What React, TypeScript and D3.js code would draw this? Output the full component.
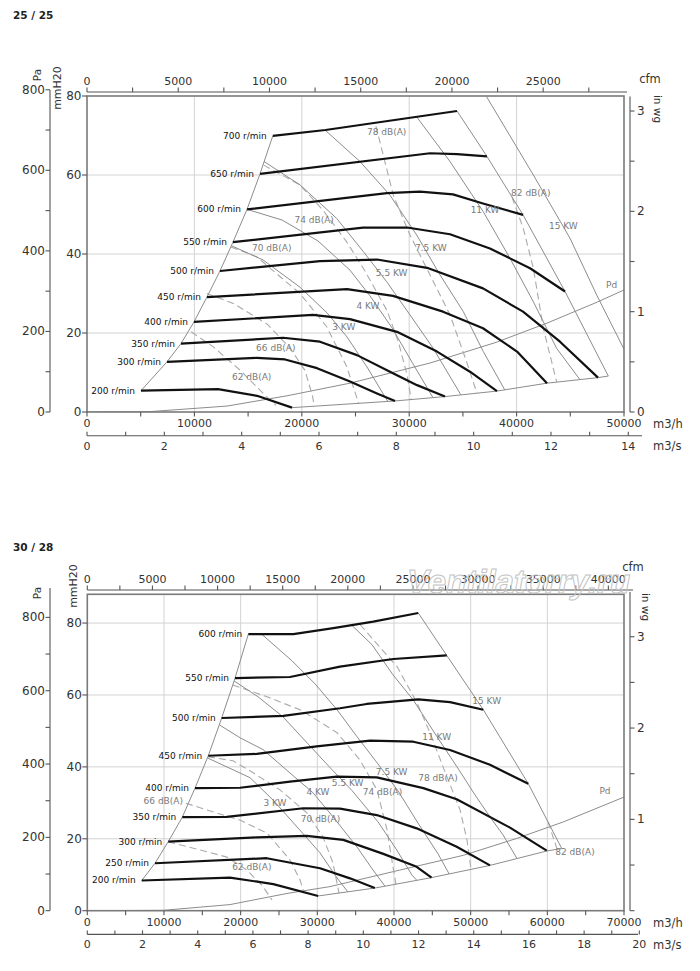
import { useEffect, useRef } from "react";
import * as d3 from "d3";

type Pt = [number, number]; // [m3/h, mmH2O]

const FONT = "DejaVu Sans, Verdana, sans-serif";

// ---------- chart "25 / 25" ----------
const aTitle = "25 / 25";
const aSpeeds = ["700 r/min", "650 r/min", "600 r/min", "550 r/min", "500 r/min", "450 r/min", "400 r/min", "350 r/min", "300 r/min", "200 r/min"];
const aCurves: Pt[][] = [
  [[17300, 69.9], [22200, 71.4], [34450, 76.2]],
  [[16110, 60.3], [31940, 65.5], [34450, 65.3], [37240, 64.7]],
  [[14900, 51.3], [27930, 55.4], [31000, 55.8], [34080, 55.1], [36870, 52.8], [40600, 49.9]],
  [[13590, 43.0], [25700, 46.7], [29800, 46.7], [33800, 45.0], [37520, 41.4], [41250, 36.4], [44510, 30.5]],
  [[12380, 35.7], [21690, 38.2], [27000, 38.6], [31660, 36.5], [36870, 31.3], [40600, 25.4], [44040, 17.8], [47580, 8.7]],
  [[11170, 29.1], [24210, 31.1], [28490, 29.4], [33150, 25.4], [36870, 21.2], [40040, 15.3], [42830, 7.3]],
  [[9960, 22.8], [21040, 24.6], [24490, 23.5], [28860, 20.3], [32590, 15.3], [35660, 10.2], [38170, 5.3]],
  [[8750, 17.3], [18250, 18.8], [21690, 17.8], [25140, 14.4], [28210, 10.2], [30730, 6.8], [33330, 3.9]],
  [[7450, 12.7], [15800, 13.7], [18440, 13.3], [21420, 11.1], [24490, 7.7], [27000, 4.7], [28680, 2.8]],
  [[5030, 5.4], [12200, 5.8], [15830, 4.1], [19090, 1.1]],
];
const aBottomEdge: Pt[] = [[19090, 1.1], [28680, 2.8], [33330, 3.9], [38170, 5.3], [42830, 7.3], [47580, 8.7], [48540, 9.1]];
const aRightEdge: Pt[] = [[48540, 9.1], [44510, 30.5], [40600, 49.9], [37240, 64.7], [34450, 76.2]];
const aPd: Pt[] = [[0, 0], [5870, 0.1], [13040, 1.5], [18620, 4.1], [24490, 7.3], [31940, 12.4], [38170, 17.7], [42830, 22.5], [47490, 27.8], [50000, 30.9]];
const aPdAt: Pt = [48850, 32.2];
const aPowerLines: Pt[][] = [
  [[37210, 79.8], [41560, 60.0], [44970, 44.0], [47460, 29.6], [50000, 15.9]],
  [[30700, 74.7], [33800, 63.4], [36900, 50.7], [39390, 38.9], [41560, 27.9], [43730, 16.1], [45900, 8.2]],
  [[22160, 71.4], [25420, 63.4], [28210, 54.9], [30700, 44.8], [32870, 34.7], [35040, 25.4], [36900, 15.3], [38900, 5.6]],
  [[16490, 63.4], [19830, 57.5], [23250, 49.0], [25730, 40.6], [27900, 33.0], [30070, 24.6], [32240, 16.1], [34800, 4.4]],
  [[14900, 51.3], [18160, 48.6], [21510, 43.3], [24490, 35.9], [26350, 29.4], [28400, 21.3], [30350, 12.2], [32200, 3.7]],
  [[13450, 42.1], [16390, 38.5], [19830, 31.6], [22350, 25.1], [24210, 19.0], [26070, 11.4], [28000, 2.7]],
];
const aPowerNames = ["15 KW", "11 KW", "7.5 KW", "5.5 KW", "4 KW", "3 KW"];
const aPowerAt: Pt[] = [[44350, 47.1], [37060, 51.1], [32010, 41.4], [28370, 35.1], [26160, 26.9], [23910, 21.4]];
const aNoiseLines: Pt[][] = [
  [[39570, 54.4], [40620, 46.5], [41560, 36.4], [42490, 21.2], [43730, 7.6]],
  [[26900, 72.4], [28520, 54.9], [30070, 44.8], [31940, 34.7], [33800, 24.6], [35350, 12.7], [36300, 4.8]],
  [[16450, 62.5], [19830, 57.5], [22000, 51.0], [24200, 43.0], [25880, 35.7], [27930, 25.7], [29000, 17.7], [29800, 9.4], [30200, 3.0]],
  [[13400, 41.8], [15800, 39.3], [19830, 30.0], [22320, 21.6], [24180, 11.5], [25300, 2.1]],
  [[11150, 30.0], [13620, 27.5], [16800, 22.2], [18900, 16.2], [20300, 10.5], [21000, 4.0], [21150, 1.6]],
  [[9700, 20.3], [11760, 16.5], [14250, 10.6], [16420, 4.7], [17600, 1.7]],
];
const aNoiseNames = ["82 dB(A)", "78 dB(A)", "74 dB(A)", "70 dB(A)", "66 dB(A)", "62 dB(A)"];
const aNoiseAt: Pt[] = [[41320, 55.5], [27900, 70.8], [21150, 48.6], [17200, 41.4], [17580, 16.1], [15330, 8.9]];
const aFlowTicks = [0, 10000, 20000, 30000, 40000, 50000];
const aSecTicks = [0, 2, 4, 6, 8, 10, 12, 14];
const aCfmTicks = [0, 5000, 10000, 15000, 20000, 25000];
const aPaTicks = [0, 200, 400, 600, 800];
const aMmTicks = [0, 20, 40, 60, 80];
const aInTicks = [0, 1, 2, 3];

// ---------- chart "30 / 28" ----------
const bTitle = "30 / 28";
const bSpeeds = ["600 r/min", "550 r/min", "500 r/min", "450 r/min", "400 r/min", "350 r/min", "300 r/min", "250 r/min", "200 r/min"];
const bCurves: Pt[][] = [
  [[21000, 76.9], [26870, 76.9], [32090, 78.6], [37300, 80.4], [43170, 82.8]],
  [[19270, 64.7], [26440, 65.0], [32960, 67.9], [39920, 70.0], [46880, 71.0]],
  [[17530, 53.6], [25570, 54.2], [32960, 56.3], [36440, 57.5], [43170, 58.8], [47310, 58.0], [51650, 55.9]],
  [[15780, 43.1], [22100, 43.6], [29920, 45.7], [36880, 47.3], [42520, 47.0], [47310, 44.7], [52520, 40.6], [57520, 35.3]],
  [[14050, 34.1], [19920, 34.2], [26440, 35.9], [32530, 37.3], [37750, 37.1], [43830, 34.1], [48180, 31.0], [55130, 23.1], [59920, 16.7]],
  [[12390, 26.0], [18180, 26.1], [28170, 28.5], [32960, 28.4], [37750, 26.6], [42960, 22.9], [48180, 17.8], [52520, 12.6]],
  [[10560, 19.2], [22100, 20.4], [28620, 20.8], [33390, 19.7], [38610, 15.8], [42960, 12.2], [44900, 9.2]],
  [[8830, 13.2], [23400, 14.6], [30350, 11.8], [34260, 9.0], [37500, 6.3]],
  [[7100, 8.4], [18610, 9.2], [24260, 7.4], [30110, 4.1]],
];
const bBottomEdge: Pt[] = [[30110, 4.1], [37500, 6.3], [44900, 9.2], [52520, 12.6], [59920, 16.6], [61880, 17.3]];
const bRightEdge: Pt[] = [[61880, 17.3], [57520, 35.3], [51650, 55.9], [46880, 71.0], [43170, 82.8]];
const bPd: Pt[] = [[0, 0], [9880, 0.1], [18610, 1.7], [26050, 4.8], [31650, 6.7], [40760, 11.3], [49040, 15.4], [56010, 20.1], [62090, 24.7], [70000, 31.6]];
const bPdAt: Pt = [67520, 33.4];
const bPowerLines: Pt[][] = [
  [[34490, 79.4], [37130, 74.0], [39870, 65.6], [42480, 58.7], [45610, 48.4], [48220, 40.0], [50570, 32.2], [52520, 26.1], [54220, 21.1], [56050, 14.5]],
  [[22750, 76.9], [26700, 69.5], [29700, 63.1], [32570, 55.9], [35180, 48.4], [37920, 40.8], [40530, 33.3], [43270, 23.9], [45750, 15.8], [47200, 10.2]],
  [[19140, 63.9], [22270, 59.5], [25530, 53.9], [28790, 46.4], [31920, 39.2], [34530, 33.4], [37920, 24.7], [40270, 17.2], [42350, 9.9], [43000, 8.4]],
  [[17210, 51.7], [19920, 48.1], [22920, 44.8], [26440, 38.3], [29440, 32.8], [32050, 26.1], [35180, 17.7], [37270, 11.3], [38830, 6.8]],
  [[15670, 42.5], [19000, 39.2], [21220, 37.0], [24220, 30.8], [27480, 23.0], [30350, 16.1], [32570, 9.1], [34000, 5.2]],
];
const bPowerNames = ["15 KW", "11 KW", "7.5 KW", "5.5 KW", "4 KW", "3 KW"];
const bPowerAt: Pt[] = [[52090, 58.2], [45570, 48.3], [39700, 38.5], [33960, 35.6], [30090, 33.0], [24480, 29.9]];
const bNoiseLines: Pt[][] = [
  [[60100, 24.7], [61260, 17.2]],
  [[35570, 79.6], [40400, 67.9], [43000, 57.8], [44700, 49.5], [46400, 40.0], [48610, 28.1], [49520, 19.7], [50050, 11.4]],
  [[18970, 62.8], [23440, 59.5], [27740, 55.9], [30350, 52.5], [32570, 49.5], [35570, 41.9], [37780, 33.6], [39090, 22.5], [39870, 12.2], [40260, 7.3]],
  [[15740, 42.8], [19000, 41.7], [21220, 38.9], [25130, 33.6], [28650, 27.2], [30740, 20.5], [32040, 13.3], [32830, 4.9]],
  [[12870, 29.9], [15610, 28.0], [19920, 25.2], [23440, 21.6], [26440, 14.1], [27740, 8.6], [28270, 4.9]],
  [[10560, 19.2], [14700, 16.9], [18220, 14.9], [20830, 11.3], [22920, 6.7], [24090, 3.0]],
];
const bNoiseNames = ["82 dB(A)", "78 dB(A)", "74 dB(A)", "70 dB(A)", "66 dB(A)", "62 dB(A)"];
const bNoiseAt: Pt[] = [[63610, 16.3], [45740, 37.0], [38500, 33.1], [30420, 25.5], [9910, 30.6], [21460, 12.2]];
const bFlowTicks = [0, 10000, 20000, 30000, 40000, 50000, 60000, 70000];
const bSecTicks = [0, 2, 4, 6, 8, 10, 12, 14, 16, 18, 20];
const bCfmTicks = [0, 5000, 10000, 15000, 20000, 25000, 30000, 35000, 40000];
const bPaTicks = [0, 200, 400, 600, 800];
const bMmTicks = [0, 20, 40, 60, 80];
const bInTicks = [1, 2, 3];

const CFM = 1.699; // m3/h per cfm
const PA = 9.80665; // Pa per mmH2O
const INWG = 25.4; // mmH2O per in wg

type Box = {
  titleY: number; x0: number; x1: number; yTop: number; yBottom: number;
  qMax: number; pMax: number; cfmY: number; cfmEnd: number; cfmMax: number;
  secMax: number; secEnd: number; paMax: number; inMax: number;
  paLineTop: number; inLineTop: number;
  cfmLabel: Pt; inLabel: Pt; paLabel: Pt; mmLabel: Pt;
  mark?: { text: string; x: number; y: number };
};

type Chart = {
  id: string; title: string; speeds: string[]; curves: Pt[][];
  bottomEdge: Pt[]; rightEdge: Pt[]; pd: Pt[]; pdAt: Pt;
  powerLines: Pt[][]; powerNames: string[]; powerAt: Pt[];
  noiseLines: Pt[][]; noiseNames: string[]; noiseAt: Pt[];
  flowTicks: number[]; secTicks: number[]; cfmTicks: number[];
  paTicks: number[]; mmTicks: number[]; inTicks: number[];
  box: Box;
};

const charts: Chart[] = [
  {
    id: "a", title: aTitle, speeds: aSpeeds, curves: aCurves, bottomEdge: aBottomEdge, rightEdge: aRightEdge,
    pd: aPd, pdAt: aPdAt, powerLines: aPowerLines, powerNames: aPowerNames, powerAt: aPowerAt,
    noiseLines: aNoiseLines, noiseNames: aNoiseNames, noiseAt: aNoiseAt,
    flowTicks: aFlowTicks, secTicks: aSecTicks, cfmTicks: aCfmTicks, paTicks: aPaTicks, mmTicks: aMmTicks, inTicks: aInTicks,
    box: {
      titleY: 15, x0: 87, x1: 624, yTop: 96, yBottom: 412, qMax: 50000, pMax: 80,
      cfmY: 92, cfmEnd: 627, cfmMax: 27500, secMax: 14, secEnd: 642, paMax: 800, inMax: 3,
      paLineTop: 90, inLineTop: 96.5,
      cfmLabel: [650, 79], inLabel: [658, 109], paLabel: [37, 75], mmLabel: [57, 88],
    },
  },
  {
    id: "b", title: bTitle, speeds: bSpeeds, curves: bCurves, bottomEdge: bBottomEdge, rightEdge: bRightEdge,
    pd: bPd, pdAt: bPdAt, powerLines: bPowerLines, powerNames: bPowerNames, powerAt: bPowerAt,
    noiseLines: bNoiseLines, noiseNames: bNoiseNames, noiseAt: bNoiseAt,
    flowTicks: bFlowTicks, secTicks: bSecTicks, cfmTicks: bCfmTicks, paTicks: bPaTicks, mmTicks: bMmTicks, inTicks: bInTicks,
    box: {
      titleY: 547, x0: 87.3, x1: 624, yTop: 594.3, yBottom: 910.7, qMax: 70000, pMax: 88,
      cfmY: 590, cfmEnd: 633, cfmMax: 40000, secMax: 20, secEnd: 638, paMax: 800, inMax: 3,
      paLineTop: 588, inLineTop: 592,
      cfmLabel: [633, 567], inLabel: [646, 607], paLabel: [37, 593], mmLabel: [73, 586],
      mark: { text: "Ventilatorry.ru", x: 407, y: 593 },
    },
  },
];

function drawChart(svg: d3.Selection<SVGSVGElement, unknown, null, undefined>, c: Chart) {
  const b = c.box;
  const x = d3.scaleLinear().domain([0, b.qMax]).range([b.x0, b.x1]);
  const y = d3.scaleLinear().domain([0, b.pMax]).range([b.yBottom, b.yTop]);
  const line = d3.line<Pt>().x((d) => x(d[0])).y((d) => y(d[1]));

  svg
    .append("defs")
    .append("clipPath")
    .attr("id", `clip-${c.id}`)
    .append("rect")
    .attr("x", b.x0)
    .attr("y", b.yTop)
    .attr("width", b.x1 - b.x0)
    .attr("height", b.yBottom - b.yTop);

  const g = svg.append("g").attr("font-family", FONT);

  g.append("text")
    .attr("x", 13)
    .attr("y", b.titleY)
    .attr("dominant-baseline", "central")
    .attr("font-size", 10.5)
    .attr("font-weight", "bold")
    .attr("fill", "#222")
    .text(c.title);

  // grid
  const grid = g.append("g").attr("stroke", "#d3d3d3").attr("stroke-width", 1);
  c.flowTicks
    .filter((v) => v > 0 && v < b.qMax)
    .forEach((v) =>
      grid.append("line").attr("x1", x(v)).attr("x2", x(v)).attr("y1", b.yTop).attr("y2", b.yBottom),
    );
  c.mmTicks
    .filter((v) => v > 0 && v < b.pMax)
    .forEach((v) =>
      grid.append("line").attr("x1", b.x0).attr("x2", b.x1).attr("y1", y(v)).attr("y2", y(v)),
    );

  // curves
  const plot = g.append("g").attr("clip-path", `url(#clip-${c.id})`).attr("fill", "none");
  plot.append("path").datum(c.pd).attr("d", line).attr("stroke", "#8c8c8c").attr("stroke-width", 1);
  c.noiseLines.forEach((pts) =>
    plot
      .append("path")
      .datum(pts)
      .attr("d", line)
      .attr("stroke", "#aaa")
      .attr("stroke-width", 1.1)
      .attr("stroke-dasharray", "7,4"),
  );
  c.powerLines.forEach((pts) =>
    plot.append("path").datum(pts).attr("d", line).attr("stroke", "#8c8c8c").attr("stroke-width", 1),
  );
  [c.curves.map((cv) => cv[0]), c.bottomEdge, c.rightEdge].forEach((pts) =>
    plot.append("path").datum(pts).attr("d", line).attr("stroke", "#8c8c8c").attr("stroke-width", 1),
  );
  c.curves.forEach((cv) =>
    plot
      .append("path")
      .datum(cv)
      .attr("d", line)
      .attr("stroke", "#111")
      .attr("stroke-width", 2.2)
      .attr("stroke-linejoin", "round"),
  );

  // labels on curves
  const small = g.append("g").attr("font-size", 9).attr("dominant-baseline", "central");
  c.curves.forEach((cv, i) =>
    small
      .append("text")
      .attr("x", x(cv[0][0]) - 6)
      .attr("y", y(cv[0][1]))
      .attr("text-anchor", "end")
      .attr("fill", "#111")
      .text(c.speeds[i]),
  );
  const grey = [
    ...c.powerNames.map((t, i) => ({ t, p: c.powerAt[i] })),
    ...c.noiseNames.map((t, i) => ({ t, p: c.noiseAt[i] })),
    { t: "Pd", p: c.pdAt },
  ];
  grey.forEach((d) =>
    small
      .append("text")
      .attr("x", x(d.p[0]))
      .attr("y", y(d.p[1]))
      .attr("text-anchor", "middle")
      .attr("fill", "#7a7a7a")
      .text(d.t),
  );

  // frame
  g.append("rect")
    .attr("x", b.x0)
    .attr("y", b.yTop)
    .attr("width", b.x1 - b.x0)
    .attr("height", b.yBottom - b.yTop)
    .attr("fill", "none")
    .attr("stroke", "#7a7a7a")
    .attr("stroke-width", 1.6);

  const axis = g.append("g").attr("stroke", "#555").attr("stroke-width", 1.1);
  const nums = g.append("g").attr("fill", "#333").attr("dominant-baseline", "central");

  // m3/h
  d3.range(0, b.qMax + 1, 5000).forEach((v) =>
    axis.append("line").attr("x1", x(v)).attr("x2", x(v)).attr("y1", b.yBottom).attr("y2", b.yBottom + 4.5),
  );
  c.flowTicks.forEach((v) =>
    nums
      .append("text")
      .attr("x", x(v))
      .attr("y", b.yBottom + 11.8)
      .attr("text-anchor", "middle")
      .attr("font-size", 11)
      .text(v),
  );

  // m3/s
  const secY = b.yBottom + 23.7;
  axis.append("line").attr("x1", b.x0).attr("x2", b.secEnd).attr("y1", secY).attr("y2", secY);
  d3.range(0, b.secMax + 1, 1).forEach((v) =>
    axis
      .append("line")
      .attr("x1", x(v * 3600))
      .attr("x2", x(v * 3600))
      .attr("y1", secY - 4)
      .attr("y2", secY),
  );
  c.secTicks.forEach((v) =>
    nums
      .append("text")
      .attr("x", x(v * 3600))
      .attr("y", secY + 10.5)
      .attr("text-anchor", "middle")
      .attr("font-size", 11)
      .text(v),
  );

  // cfm
  axis.append("line").attr("x1", b.x0).attr("x2", b.cfmEnd).attr("y1", b.cfmY).attr("y2", b.cfmY);
  d3.range(0, b.cfmMax + 1, 2500).forEach((v) =>
    axis
      .append("line")
      .attr("x1", x(v * CFM))
      .attr("x2", x(v * CFM))
      .attr("y1", b.cfmY - 4.5)
      .attr("y2", b.cfmY),
  );
  c.cfmTicks.forEach((v) =>
    nums
      .append("text")
      .attr("x", x(v * CFM))
      .attr("y", b.cfmY - 10.8)
      .attr("text-anchor", "middle")
      .attr("font-size", 11)
      .text(v),
  );

  // mmH2O
  c.mmTicks.forEach((v) => {
    axis.append("line").attr("x1", b.x0 - 5).attr("x2", b.x0).attr("y1", y(v)).attr("y2", y(v));
    nums
      .append("text")
      .attr("x", b.x0 - 5.5)
      .attr("y", y(v))
      .attr("text-anchor", "end")
      .attr("font-size", 12)
      .text(v);
  });

  // Pa
  axis.append("line").attr("x1", 50).attr("x2", 50).attr("y1", b.paLineTop).attr("y2", b.yBottom);
  d3.range(0, b.paMax + 1, 100).forEach((v) =>
    axis.append("line").attr("x1", 45.5).attr("x2", 50).attr("y1", y(v / PA)).attr("y2", y(v / PA)),
  );
  c.paTicks.forEach((v) =>
    nums
      .append("text")
      .attr("x", 45)
      .attr("y", y(v / PA))
      .attr("text-anchor", "end")
      .attr("font-size", 12)
      .text(v),
  );

  // in wg
  axis.append("line").attr("x1", 630).attr("x2", 630).attr("y1", b.inLineTop).attr("y2", b.yBottom);
  d3.range(0, b.inMax + 0.01, 0.5).forEach((v) =>
    axis.append("line").attr("x1", 630).attr("x2", 634.5).attr("y1", y(v * INWG)).attr("y2", y(v * INWG)),
  );
  c.inTicks.forEach((v) =>
    nums
      .append("text")
      .attr("x", 637)
      .attr("y", y(v * INWG))
      .attr("font-size", 12)
      .text(v),
  );

  // unit labels
  const units = g.append("g").attr("fill", "#333").attr("font-size", 11.5).attr("dominant-baseline", "central");
  units.append("text").attr("x", 653).attr("y", b.yBottom + 11.8).text("m3/h");
  units.append("text").attr("x", 653).attr("y", secY + 10.5).text("m3/s");
  units.append("text").attr("x", b.cfmLabel[0]).attr("y", b.cfmLabel[1]).attr("text-anchor", "middle").text("cfm");
  units
    .append("text")
    .attr("transform", `translate(${b.paLabel[0]},${b.paLabel[1]}) rotate(-90)`)
    .attr("text-anchor", "middle")
    .attr("font-size", 10.5)
    .text("Pa");
  units
    .append("text")
    .attr("transform", `translate(${b.mmLabel[0]},${b.mmLabel[1]}) rotate(-90)`)
    .attr("text-anchor", "middle")
    .attr("font-size", 11)
    .text("mmH20");
  units
    .append("text")
    .attr("transform", `translate(${b.inLabel[0]},${b.inLabel[1]}) rotate(90)`)
    .attr("text-anchor", "middle")
    .attr("font-size", 10.5)
    .text("in wg");

  if (b.mark) {
    g.append("text")
      .attr("x", b.mark.x)
      .attr("y", b.mark.y)
      .attr("font-family", "Liberation Sans, Arial, sans-serif")
      .attr("font-size", 33)
      .attr("font-weight", "bold")
      .attr("font-style", "italic")
      .attr("fill", "none")
      .attr("stroke", "#c4c4c4")
      .attr("stroke-width", 1)
      .text(b.mark.text);
  }
}

const App = () => {
  const svgRef = useRef<SVGSVGElement | null>(null);

  useEffect(() => {
    if (!svgRef.current) return;
    const svg = d3.select(svgRef.current);
    svg.selectAll("*").remove();
    charts.forEach((c) => drawChart(svg, c));
  }, []);

  return (
    <svg
      ref={svgRef}
      width={700}
      height={971}
      style={{ position: "absolute", left: 0, top: 0, background: "#fff" }}
    />
  );
};

export default App;
